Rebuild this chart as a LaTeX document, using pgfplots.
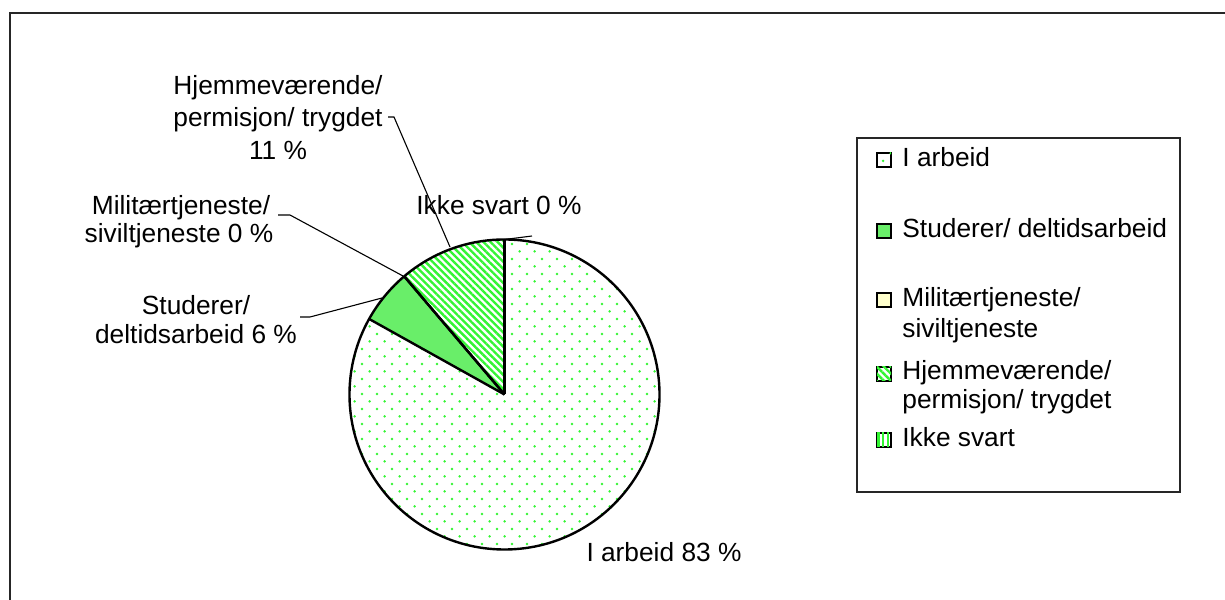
\documentclass[border=0pt]{standalone}
\usepackage{fontspec}
\setmainfont{Liberation Sans}
\usepackage{pgfplots}
\pgfplotsset{compat=1.18}
\usetikzlibrary{patterns,patterns.meta}
\definecolor{pgreen}{RGB}{51,245,51}
\definecolor{sgreen}{RGB}{105,238,105}
\definecolor{myellow}{RGB}{255,255,204}
\tikzdeclarepattern{name=sdots, type=uncolored,
  bounding box={(0,0) and (7.65bp,7.65bp)}, tile size={(7.65bp,7.65bp)},
  code={\fill (1.9bp,1.9bp) circle[radius=0.7bp]; \fill (5.73bp,5.73bp) circle[radius=0.7bp];}}
\tikzset{
  arb/.style={fill=white, postaction={pattern=sdots, pattern color=pgreen}},
  stu/.style={fill=sgreen},
  mil/.style={fill=myellow},
  hje/.style={fill=white, postaction={pattern={Lines[angle=-45,distance=2.5bp,line width=1.2bp]}, pattern color=pgreen}},
  ikk/.style={fill=white, postaction={pattern={Lines[angle=90,distance=2.4bp,line width=1.1bp]}, pattern color=pgreen}},
  lbl/.style={anchor=base, inner sep=0pt},
  leg/.style={anchor=base west, inner sep=0pt},
  lead/.style={line width=0.55bp, black}
}
\begin{document}
\begin{tikzpicture}[font=\fontsize{13.15bp}{16bp}\selectfont]
\begin{axis}[hide axis, scale only axis, width=612.5bp, height=300bp,
  xmin=0, xmax=1225, ymin=0, ymax=600, y dir=reverse, clip=false]
% outer frame
\draw[line width=1bp, black!85] (axis cs:10,13.5) rectangle (axis cs:1400,800);
% pie slices: I arbeid, Studerer, Militaer, Hjemme, Ikke svart (percent)
\pgfplotsextra{
  \gdef\pa{90}
  \foreach \v/\sty in {83.1/arb,5.7/stu,0/mil,11.2/hje,0/ikk}{
    \pgfmathsetmacro\pb{\pa-3.6*\v}
    \fill[\sty] (axis cs:504.5,394.5) -- ++(\pa:77.5bp) arc[start angle=\pa, end angle=\pb, radius=77.5bp] -- cycle;
    \global\let\pa\pb
  }
  \gdef\pa{90}
  \foreach \v in {83.1,5.7,0,11.2,0}{
    \pgfmathsetmacro\pb{\pa-3.6*\v}
    \draw[line width=1.2bp] (axis cs:504.5,394.5) -- ++(\pb:77.5bp);
    \global\let\pa\pb
  }
  \draw[line width=1.2bp] (axis cs:504.5,394.5) circle[radius=77.5bp];
}
% leader lines
\draw[lead] (axis cs:388,117) -- (axis cs:394,117) -- (axis cs:450,247);
\draw[lead] (axis cs:278,215) -- (axis cs:290,215) -- (axis cs:403,276);
\draw[lead] (axis cs:300,317) -- (axis cs:310,317) -- (axis cs:382,298);
\draw[lead] (axis cs:504.5,239.5) -- (axis cs:532,236);
% data labels
\node[lbl] at (axis cs:278,95) {Hjemmeværende/};
\node[lbl] at (axis cs:278,127) {permisjon/ trygdet};
\node[lbl] at (axis cs:278,160) {11 \%};
\node[lbl] at (axis cs:181,215) {Militærtjeneste/};
\node[lbl] at (axis cs:179,243) {siviltjeneste 0 \%};
\node[lbl] at (axis cs:196,315) {Studerer/};
\node[lbl] at (axis cs:196,344) {deltidsarbeid 6 \%};
\node[lbl] at (axis cs:499,215) {Ikke svart 0 \%};
\node[lbl] at (axis cs:664,562) {I arbeid 83 \%};
% legend
\draw[line width=0.8bp, black!85] (axis cs:857,138) rectangle (axis cs:1180,492);
\draw[arb, line width=0.65bp] (axis cs:877,153) rectangle (axis cs:891,167);
\draw[stu, line width=0.65bp] (axis cs:877,224) rectangle (axis cs:891,238);
\draw[mil, line width=0.65bp] (axis cs:877,293) rectangle (axis cs:891,307);
\draw[hje, line width=0.65bp] (axis cs:877,367) rectangle (axis cs:891,381);
\draw[ikk, line width=0.65bp] (axis cs:877,433) rectangle (axis cs:891,447);
\node[leg] at (axis cs:902,167) {I arbeid};
\node[leg] at (axis cs:902,238) {Studerer/ deltidsarbeid};
\node[leg] at (axis cs:902,307) {Militærtjeneste/};
\node[leg] at (axis cs:902,338) {siviltjeneste};
\node[leg] at (axis cs:902,380) {Hjemmeværende/};
\node[leg] at (axis cs:902,409) {permisjon/ trygdet};
\node[leg] at (axis cs:902,447) {Ikke svart};
\end{axis}
\pgfresetboundingbox
\useasboundingbox (current axis.south west) rectangle (current axis.north east);
\end{tikzpicture}
\end{document}
